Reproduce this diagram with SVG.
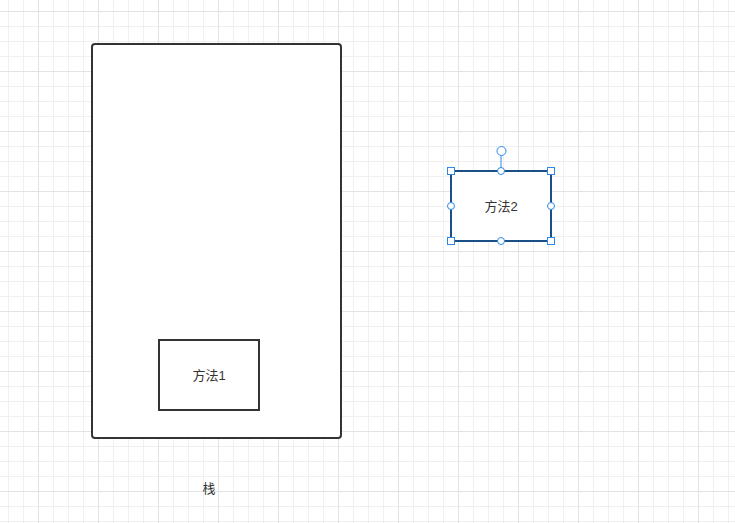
<svg xmlns="http://www.w3.org/2000/svg" width="735" height="523" viewBox="0 0 735 523">
<style>
.minor{stroke:#f0f0f0;stroke-width:1;fill:none}
.major{stroke:#e3e3e3;stroke-width:1;fill:none}
.box{fill:#ffffff;stroke:#333333;stroke-width:2}
.sel{fill:#ffffff;stroke:#1b4f85;stroke-width:2}
.lbl{font-family:"Liberation Sans","Noto Sans CJK SC",sans-serif;font-size:13px;fill:#333333;text-anchor:middle;dominant-baseline:central}
.h{fill:#ffffff;stroke:#2f88e6;stroke-width:1}
</style>
<defs>
<pattern id="grid" patternUnits="userSpaceOnUse" x="38" y="11" width="60" height="60">
<path class="minor" d="M15.5 0V60M30.5 0V60M45.5 0V60M0 15.5H60M0 30.5H60M0 45.5H60"/>
<path class="major" d="M0.5 0V60M0 0.5H60"/>
</pattern>
</defs>
<rect width="735" height="523" fill="#ffffff"/>
<rect width="735" height="523" fill="url(#grid)"/>
<g id="stack">
<rect class="box" x="92" y="44" width="249" height="394" rx="3"/>
<text class="lbl" x="209" y="488">栈</text>
</g>
<g id="method1">
<rect class="box" x="159" y="340" width="100" height="70" rx="0"/>
<text class="lbl" x="209" y="375.5">方法1</text>
</g>
<g id="method2">
<rect class="sel" x="451" y="171" width="100" height="70"/>
<text class="lbl" x="501" y="206.5">方法2</text>
<g id="selection">
<line x1="501" y1="156" x2="501" y2="171" stroke="#2f88e6" stroke-width="1"/>
<circle class="h" cx="501.5" cy="151" r="4.5"/>
<rect class="h" x="447.5" y="167.5" width="7" height="7"/>
<rect class="h" x="547.5" y="167.5" width="7" height="7"/>
<rect class="h" x="447.5" y="237.5" width="7" height="7"/>
<rect class="h" x="547.5" y="237.5" width="7" height="7"/>
<circle class="h" cx="501" cy="171" r="3.5"/>
<circle class="h" cx="501" cy="241" r="3.5"/>
<circle class="h" cx="451" cy="206" r="3.5"/>
<circle class="h" cx="551" cy="206" r="3.5"/>
</g>
</g>
<g id="connectors"></g>
</svg>
